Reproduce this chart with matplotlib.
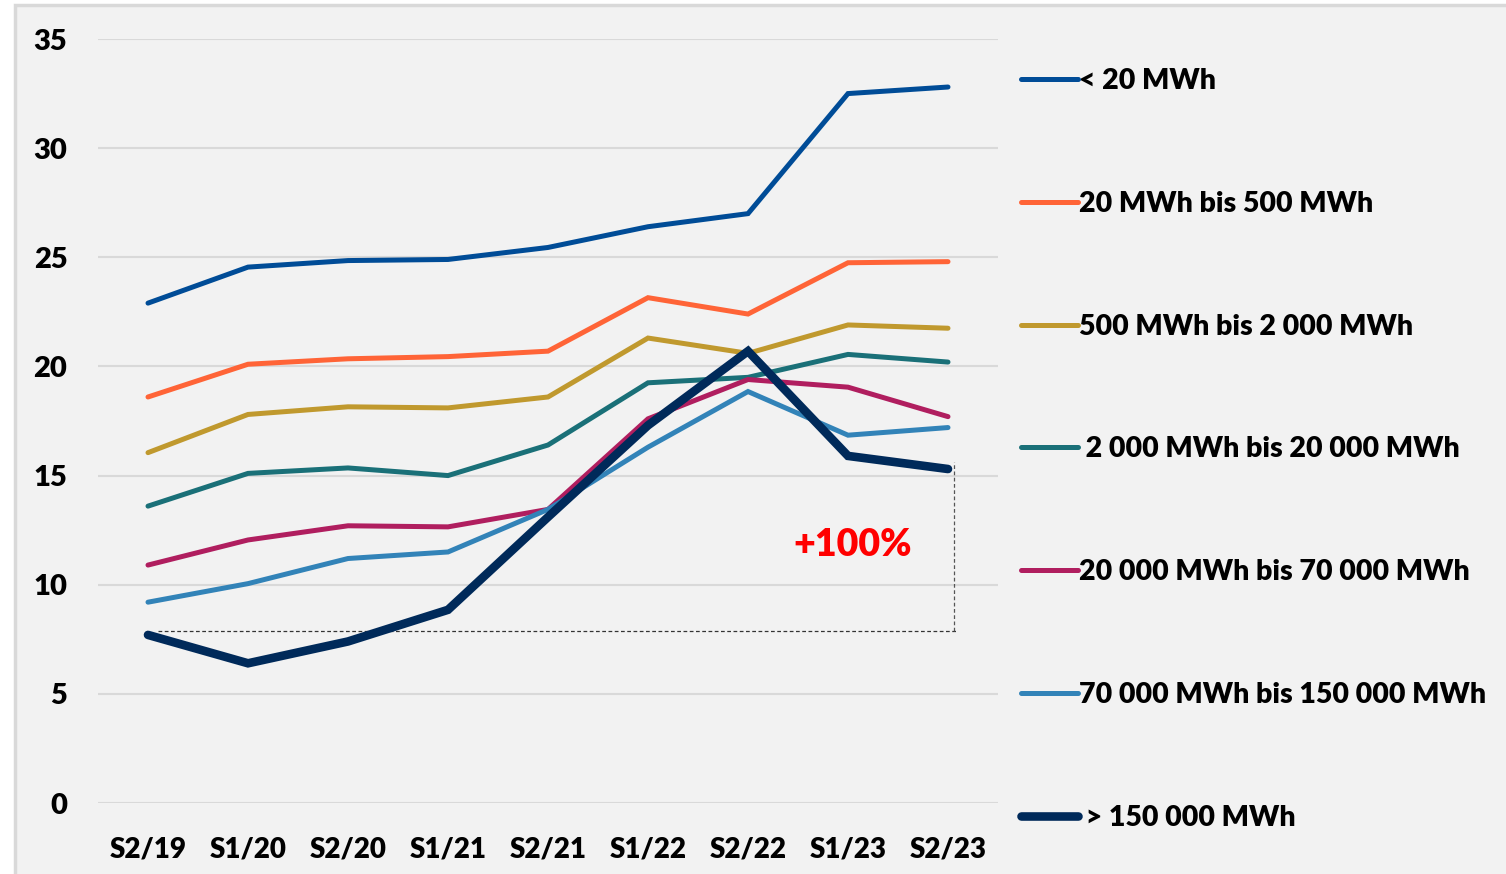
import matplotlib
matplotlib.use("Agg")
import matplotlib.pyplot as plt
from matplotlib.patches import Rectangle

plt.rcParams['font.family'] = ['Lato', 'DejaVu Sans']
plt.rcParams['font.weight'] = 800

# Data
periods = ['S2/19', 'S1/20', 'S2/20', 'S1/21', 'S2/21', 'S1/22', 'S2/22', 'S1/23', 'S2/23']

lt_20 = [22.9, 24.55, 24.85, 24.9, 25.45, 26.4, 27.0, 32.5, 32.8]
s20_500 = [18.6, 20.1, 20.35, 20.45, 20.7, 23.15, 22.4, 24.75, 24.8]
s500_2k = [16.05, 17.8, 18.15, 18.1, 18.6, 21.3, 20.6, 21.9, 21.75]
s2k_20k = [13.6, 15.1, 15.35, 15.0, 16.4, 19.25, 19.5, 20.55, 20.2]
s20k_70k = [10.9, 12.05, 12.7, 12.65, 13.45, 17.6, 19.4, 19.05, 17.7]
s70k_150k = [9.2, 10.05, 11.2, 11.5, 13.45, 16.3, 18.85, 16.85, 17.2]
gt_150k = [7.7, 6.4, 7.4, 8.85, 13.1, 17.3, 20.7, 15.9, 15.3]

labels = ['< 20 MWh', '20 MWh bis 500 MWh', '500 MWh bis 2 000 MWh',
          ' 2 000 MWh bis 20 000 MWh', '20 000 MWh bis 70 000 MWh',
          '70 000 MWh bis 150 000 MWh', ' > 150 000 MWh']
colors = ['#004c97', '#ff6437', '#c0992e', '#1a7078', '#b01e5f', '#3283b8', '#002a5a']
widths = [3.6, 3.6, 3.6, 3.6, 3.6, 3.6, 6.2]
series = [lt_20, s20_500, s500_2k, s2k_20k, s20k_70k, s70k_150k, gt_150k]

fig = plt.figure(figsize=(15.06, 8.74), dpi=100)
fig.patch.set_facecolor('white')
fig.add_artist(Rectangle((15 / 1506, -0.01), 1.0, 1 - 5 / 874 + 0.01, transform=fig.transFigure,
                         facecolor='#f2f2f2', edgecolor='#d9d9d9', linewidth=2.5, zorder=-10))

ax = fig.add_axes([98 / 1506, 1 - 803 / 874, 900 / 1506, 764 / 874])
ax.set_facecolor('none')

x = range(len(periods))
handles = []
for ys, lab, c, w in zip(series, labels, colors, widths):
    h, = ax.plot(x, ys, color=c, lw=w, label=lab, solid_capstyle='round', solid_joinstyle='miter', zorder=3)
    handles.append(h)

# reference lines for the +100% annotation
base = 7.9
ax.hlines(base, 0.1, 8.1, colors='#333333', linestyles=(0, (3, 2)), lw=0.9, zorder=2)
ax.vlines(8.06, base, 15.6, colors='#555555', linestyles=(0, (3, 2)), lw=0.9, zorder=2)
ax.text(7.05, 11.8, '+100%', color='#ff0000', fontsize=27, fontweight=800, ha='center', va='center')

ax.set_xlim(-0.5, 8.5)
ax.set_ylim(0, 35)
ax.set_yticks(range(0, 36, 5))
ax.set_xticks(list(x))
ax.set_xticklabels(periods)
ax.grid(axis='y', color='#d9d9d9', lw=1.5)
ax.set_axisbelow(True)
for s in ax.spines.values():
    s.set_visible(False)
ax.tick_params(length=0, labelsize=20, colors='black')
ax.tick_params(axis='y', pad=22, labelsize=21)
ax.tick_params(axis='x', pad=24)

leg = ax.legend(handles=handles, loc='upper left', bbox_to_anchor=(1021 / 1506, 1 - 68 / 874),
                bbox_transform=fig.transFigure, frameon=False, fontsize=20.5,
                handlelength=2.0, handletextpad=0.05, labelspacing=3.4, borderpad=0,
                borderaxespad=0)

fig.savefig('out.png', dpi=100, facecolor=fig.get_facecolor())
